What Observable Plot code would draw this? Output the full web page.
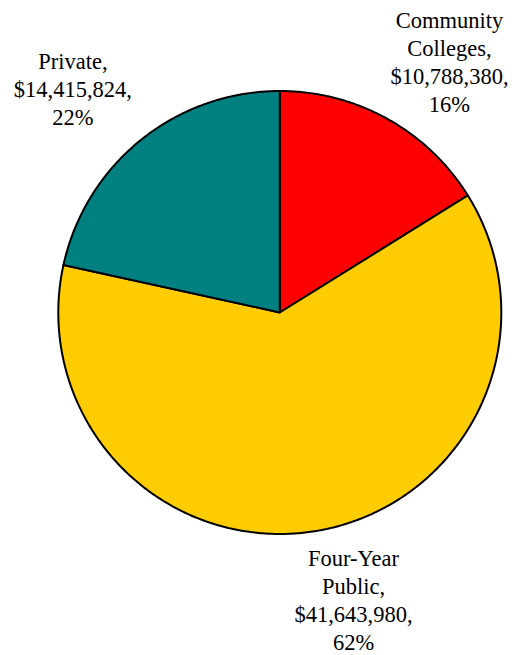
<!DOCTYPE html>
<html>
<head>
<meta charset="utf-8">
<script src="https://cdn.jsdelivr.net/npm/d3@7"></script>
<script src="https://cdn.jsdelivr.net/npm/@observablehq/plot@0.6"></script>
<style>
  html, body { margin: 0; padding: 0; background: #fff; }
  #chart svg { display: block; }
</style>
</head>
<body>
<div id="chart"></div>
<script>
// ---- data ----
const categories = ["Community Colleges", "Four-Year Public", "Private"];
const labelNames = ["Community\nColleges", "Four-Year\nPublic", "Private"];
const values = [10788380, 41643980, 14415824];
const colors = ["#FF0000", "#FFCC00", "#008080"];

// ---- layout (unit-circle coordinates for label anchors) ----
const labelAnchors = [
  {x: 0.766, y: 1.372},
  {x: 0.333, y: -1.056},
  {x: -0.934, y: 1.187}
];

const total = d3.sum(values);
const money = d3.format("$,.0f");
const pct = d3.format(".0%");

// build slice outlines from the data (angles clockwise from 12 o'clock)
const slicePts = [];
let start = 0;
categories.forEach((c, i) => {
  const sweep = values[i] / total * 2 * Math.PI;
  slicePts.push({cat: c, x: 0, y: 0});
  const steps = Math.max(2, Math.ceil(sweep / (Math.PI / 360)));
  for (let k = 0; k <= steps; k++) {
    const a = start + sweep * k / steps;
    slicePts.push({cat: c, x: Math.sin(a), y: Math.cos(a)});
  }
  start += sweep;
});

const labels = categories.map((c, i) => ({
  cat: c,
  x: labelAnchors[i].x,
  y: labelAnchors[i].y,
  text: `${labelNames[i]},\n${money(values[i])},\n${pct(values[i] / total)}`
}));

const cx = 279.3, cy = 312, r = 221.5;
const serif = "Liberation Serif, DejaVu Serif, serif";

const chart = Plot.plot({
  width: 512,
  height: 655,
  margin: 0,
  style: {background: "#fff", overflow: "visible", fontFamily: serif},
  x: {domain: [-1, 1], range: [cx - r, cx + r], axis: null},
  y: {domain: [-1, 1], range: [cy + r, cy - r], axis: null},
  color: {domain: categories, range: colors},
  marks: [
    Plot.line(slicePts, {
      x: "x", y: "y", z: "cat", fill: "cat",
      stroke: "#000", strokeWidth: 2, strokeLinejoin: "round",
      curve: "linear-closed"
    }),
    Plot.text(labels, {
      x: "x", y: "y", text: "text",
      lineAnchor: "top", lineHeight: 1.244,
      textAnchor: "middle",
      fontFamily: serif, fontSize: 22.5, fill: "#000"
    })
  ]
});

document.getElementById("chart").appendChild(chart);
</script>
</body>
</html>
